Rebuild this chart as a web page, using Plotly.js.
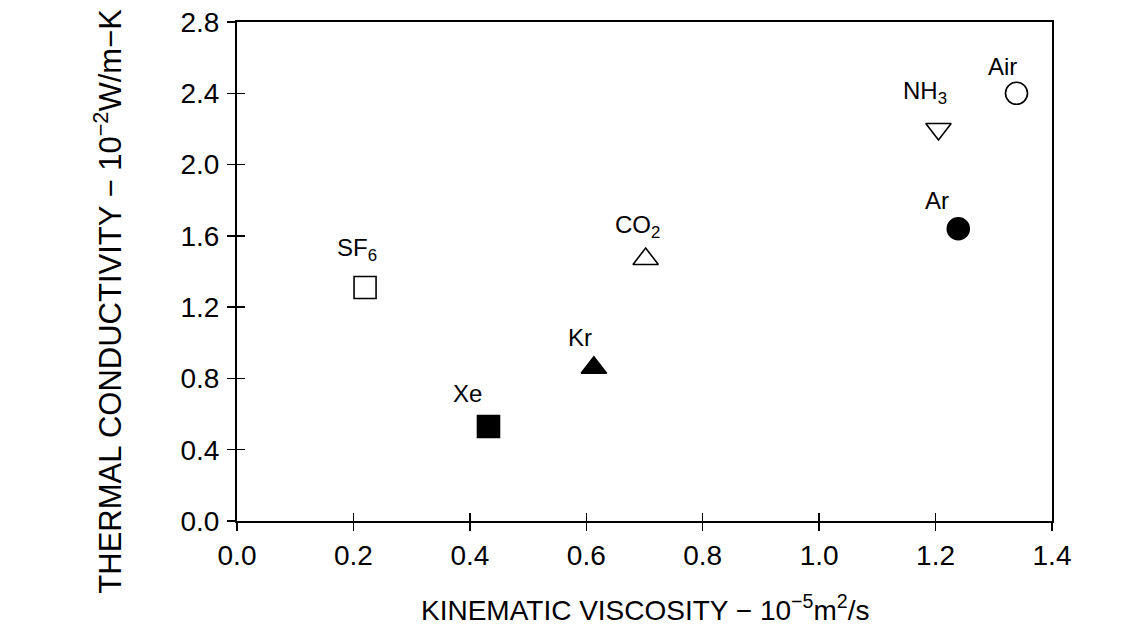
<!DOCTYPE html>
<html>
<head>
<meta charset="utf-8">
<script src="https://cdn.plot.ly/plotly-3.0.1.min.js"></script>
<style>html,body{margin:0;padding:0;background:#fff;}#chart{width:1145px;height:637px;}</style>
</head>
<body>
<div id="chart"></div>
<script>
// Data
const gases = ["SF<sub>6</sub>", "Xe", "Kr", "CO<sub>2</sub>", "NH<sub>3</sub>", "Air", "Ar"];
const viscosity = [0.220, 0.432, 0.613, 0.702, 1.205, 1.339, 1.239];      // 10^-5 m^2/s
const conductivity = [1.31, 0.53, 0.86, 1.47, 2.20, 2.40, 1.64];          // 10^-2 W/m-K
const xTicks = [0.0, 0.2, 0.4, 0.6, 0.8, 1.0, 1.2, 1.4];
const yTicks = [0.0, 0.4, 0.8, 1.2, 1.6, 2.0, 2.4, 2.8];

// Styles
const symbols = ["square-open", "square", "triangle-up", "triangle-up-open", "triangle-down-open", "circle-open", "circle"];
const labelShiftX = [-8, -21, -14, -8, -13, -14, -21];
const labelShiftY = [38, 33, 30, 33, 36, 27, 28];
const FONT = "Liberation Sans, Arial, sans-serif";

const fmt = v => v.toFixed(1);

const main = {
  x: viscosity, y: conductivity,
  type: "scatter", mode: "markers",
  marker: {symbol: symbols, size: 22, color: "#000", line: {color: "#000", width: 1.6}},
  hoverinfo: "skip", showlegend: false, cliponaxis: false
};
// invisible companion trace so the overlaid (inside-tick) axes are drawn
const ghost = {
  x: viscosity, y: conductivity, xaxis: "x2", yaxis: "y2",
  type: "scatter", mode: "markers", marker: {opacity: 0},
  hoverinfo: "skip", showlegend: false
};

const labelAnns = gases.map((g, i) => ({
  text: g, x: viscosity[i], y: conductivity[i], xref: "x", yref: "y",
  xanchor: "center", yanchor: "middle", showarrow: false,
  xshift: labelShiftX[i], yshift: labelShiftY[i],
  font: {family: FONT, size: 24, color: "#000"}
}));

const axisCommon = {
  showgrid: false, zeroline: false, showline: true, linecolor: "#000", linewidth: 2,
  tickcolor: "#000", tickwidth: 1.5, ticklen: 8,
  tickfont: {family: FONT, size: 28, color: "#000"}
};

const layout = {
  width: 1145, height: 637,
  paper_bgcolor: "#fff", plot_bgcolor: "#fff",
  margin: {l: 237, r: 93, t: 22, b: 116},
  xaxis: Object.assign({}, axisCommon, {
    range: [0, 1.4], tickmode: "array", tickvals: xTicks, ticktext: xTicks.map(fmt),
    ticks: "outside", mirror: true
  }),
  yaxis: Object.assign({}, axisCommon, {
    range: [0, 2.8], tickmode: "array", tickvals: yTicks, ticktext: yTicks.map(fmt),
    ticks: "outside", mirror: true, ticklabelstandoff: 2
  }),
  xaxis2: {overlaying: "x", range: [0, 1.4], tickmode: "array", tickvals: xTicks,
    ticks: "inside", ticklen: 8, tickwidth: 1.5, tickcolor: "#000", showticklabels: false,
    showgrid: false, zeroline: false, showline: false, side: "bottom", anchor: "y2"},
  yaxis2: {overlaying: "y", range: [0, 2.8], tickmode: "array", tickvals: yTicks,
    ticks: "inside", ticklen: 8, tickwidth: 1.5, tickcolor: "#000", showticklabels: false,
    showgrid: false, zeroline: false, showline: false, side: "left", anchor: "x2"},
  annotations: labelAnns.concat([{
    text: "THERMAL CONDUCTIVITY − 10<sup>−2</sup>W/m−K",
    xref: "paper", yref: "paper", x: -0.158, y: 0.44,
    xanchor: "center", yanchor: "middle", textangle: -90, showarrow: false,
    font: {family: FONT, size: 31, color: "#000"}
  }, {
    text: "KINEMATIC VISCOSITY − 10<sup>−5</sup>m<sup>2</sup>/s",
    xref: "paper", yref: "paper", x: 0.5, y: -0.174,
    xanchor: "center", yanchor: "middle", showarrow: false,
    font: {family: FONT, size: 28, color: "#000"}
  }])
};

Plotly.newPlot("chart", [main, ghost], layout, {displayModeBar: false, staticPlot: true});
</script>
</body>
</html>
